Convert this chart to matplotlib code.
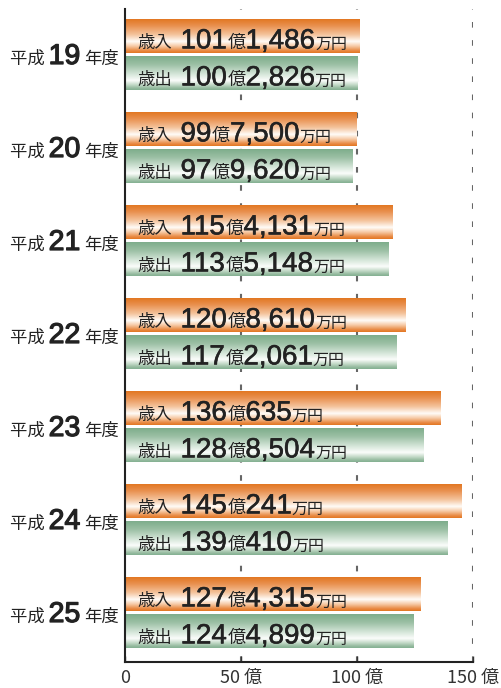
import matplotlib
matplotlib.use("Agg")
import matplotlib.pyplot as plt
import matplotlib.patheffects as pe
import numpy as np
from matplotlib.colors import LinearSegmentedColormap

plt.rcParams['font.family'] = ['Noto Sans CJK JP', 'DejaVu Sans']

years = ["19", "20", "21", "22", "23", "24", "25"]
# revenue (歳入) : 億, 万円
rev_oku = [101, 99, 115, 120, 136, 145, 127]
rev_man = [1486, 7500, 4131, 8610, 635, 241, 4315]
# expenditure (歳出)
exp_oku = [100, 97, 113, 117, 128, 139, 124]
exp_man = [2826, 9620, 5148, 2061, 8504, 410, 4899]
xticks = [0, 50, 100, 150]
xtick_labels = ["0", "50 億", "100 億", "150 億"]

W, H = 501, 688
fig = plt.figure(figsize=(W / 100, H / 100), dpi=100)
ax = fig.add_axes([125 / W, 26 / H, 348 / W, 653 / H])
ax.set_xlim(0, 150)
ax.set_ylim(662, 9)

orange = LinearSegmentedColormap.from_list("or", [
    (0.0, "#E27722"), (0.2, "#E99150"), (0.45, "#F4C29A"),
    (0.66, "#FFFCF8"), (0.8, "#F6C9A4"), (0.93, "#E98B45"), (1.0, "#E27722")])
green = LinearSegmentedColormap.from_list("gr", [
    (0.0, "#7EAD8C"), (0.25, "#9CC0A5"), (0.5, "#CFE2D3"),
    (0.72, "#FBFDFB"), (0.85, "#C2D9C7"), (0.95, "#93B99D"), (1.0, "#84B192")])

grad = np.linspace(0, 1, 200).reshape(-1, 1)

pitch = 93
first_center = 55
bar_h = 34
gap = 3

for xv in [50, 100, 150]:
    ax.axvline(xv, color="#666666", lw=1.5, ls=(0, (2.7, 6)), zorder=0)

renderer = fig.canvas.get_renderer()
txt_col = "#222222"
thick = [pe.withStroke(linewidth=0.4, foreground=txt_col)]


def chain(x, y, parts):
    for txt, size, fam, pad, eff in parts:
        x = x + pad / ax.transData.get_matrix()[0, 0]
        t = ax.text(x, y, txt, fontsize=size, family=fam,
                    va="baseline", ha="left", color=txt_col, zorder=5)
        if eff:
            t.set_path_effects(thick)
        bb = t.get_window_extent(renderer)
        x = ax.transData.inverted().transform((bb.x1, bb.y0))[0]
    return x


num_fam = ["Liberation Sans", "DejaVu Sans"]
jp_fam = ["Noto Sans CJK JP", "DejaVu Sans"]

for i, yr in enumerate(years):
    c = first_center + i * pitch
    rv = rev_oku[i] + rev_man[i] / 10000
    ev = exp_oku[i] + exp_man[i] / 10000
    y_top_r = c - gap / 2 - bar_h
    y_top_e = c + gap / 2
    for v, ytop, cmap in [(rv, y_top_r, orange), (ev, y_top_e, green)]:
        ax.imshow(grad, cmap=cmap, aspect="auto", extent=(0, v, ytop + bar_h, ytop),
                  interpolation="bilinear", zorder=2)
    for label, ytop, oku, man in [("歳入", y_top_r, rev_oku[i], rev_man[i]),
                                   ("歳出", y_top_e, exp_oku[i], exp_man[i])]:
        base = ytop + bar_h * 0.85
        chain(5.5, base, [
            (label, 12.5, jp_fam, 0, False),
            (str(oku), 20, num_fam, 8, True),
            ("億", 13, jp_fam, 0.5, False),
            (f"{man:,}", 20, num_fam, 0, True),
            ("万円", 11.5, jp_fam, 0, False),
        ])
    yb = ax.transData.transform((0, c + 9))[1] / H
    t1 = fig.text(10 / W, yb, "平成 ", fontsize=12.5, family=jp_fam, va="baseline", ha="left", color=txt_col)
    bb = t1.get_window_extent(renderer)
    t2 = fig.text(bb.x1 / W, yb, yr, fontsize=20.5, family=num_fam,
                  va="baseline", ha="left", color=txt_col, path_effects=[pe.withStroke(linewidth=0.9, foreground=txt_col)])
    bb = t2.get_window_extent(renderer)
    fig.text(bb.x1 / W + 4 / W, yb, "年度", fontsize=12.5, family=jp_fam, va="baseline", ha="left", color=txt_col)

ax.set_xlim(0, 150)
ax.set_ylim(662, 9)
for s in ["top", "right"]:
    ax.spines[s].set_visible(False)
ax.spines["left"].set_color(txt_col)
ax.spines["left"].set_linewidth(1.5)
ax.spines["bottom"].set_color(txt_col)
ax.spines["bottom"].set_linewidth(1.5)
ax.set_yticks([])
ax.set_xticks(xticks)
ax.set_xticklabels(xtick_labels, fontsize=13, color="#333333")
ax.tick_params(axis="x", direction="in", length=4, width=1, pad=5, colors="#333333")

fig.savefig("out.png", dpi=100)
